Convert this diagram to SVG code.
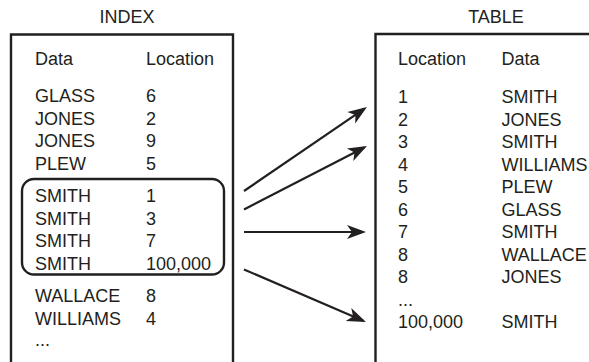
<svg xmlns="http://www.w3.org/2000/svg" width="589" height="362" viewBox="0 0 589 362">
  <style>
    text { font-family: "Liberation Sans", Arial, Helvetica, sans-serif; font-size: 18px; fill: #231f20; }
    .title { text-anchor: middle; }
    .box { fill: none; stroke: #231f20; stroke-width: 2.4; }
    .conn { fill: none; stroke: #231f20; stroke-width: 2.2; }
  </style>
  <defs>
    <marker id="arrow" markerUnits="userSpaceOnUse" markerWidth="30" markerHeight="30" refX="0" refY="0" viewBox="-20 -15 30 30" orient="auto" overflow="visible">
      <path d="M3,0 L-16,-7 L-11,0 L-16,7 Z" fill="#231f20"/>
    </marker>
  </defs>

  <g id="index">
    <text class="title" x="127" y="23">INDEX</text>
    <path class="box" d="M11,362 V34.5 H233 V362"/>
    <text x="35" y="65">Data</text>
    <text x="146" y="65">Location</text>
    <text x="35" y="102">GLASS</text><text x="146" y="102">6</text>
    <text x="35" y="124.5">JONES</text><text x="146" y="124.5">2</text>
    <text x="35" y="147">JONES</text><text x="146" y="147">9</text>
    <text x="35" y="169.5">PLEW</text><text x="146" y="169.5">5</text>
    <text x="35" y="202">SMITH</text><text x="146" y="202">1</text>
    <text x="35" y="224.5">SMITH</text><text x="146" y="224.5">3</text>
    <text x="35" y="247">SMITH</text><text x="146" y="247">7</text>
    <text x="35" y="269.5">SMITH</text><text x="146" y="269.5">100,000</text>
    <text x="35" y="302">WALLACE</text><text x="146" y="302">8</text>
    <text x="35" y="324.5">WILLIAMS</text><text x="146" y="324.5">4</text>
    <text x="35" y="346">...</text>
  </g>

  <g id="smith-group">
    <rect class="box" x="22" y="179" width="202" height="95.5" rx="12" ry="12"/>
  </g>

  <g id="table">
    <text class="title" x="496" y="23">TABLE</text>
    <path class="box" d="M375.5,362 V34 H589"/>
    <text x="398" y="65">Location</text>
    <text x="501.5" y="65">Data</text>
    <text x="398" y="103">1</text><text x="501.5" y="103">SMITH</text>
    <text x="398" y="125.5">2</text><text x="501.5" y="125.5">JONES</text>
    <text x="398" y="148">3</text><text x="501.5" y="148">SMITH</text>
    <text x="398" y="170.5">4</text><text x="501.5" y="170.5">WILLIAMS</text>
    <text x="398" y="193">5</text><text x="501.5" y="193">PLEW</text>
    <text x="398" y="215.5">6</text><text x="501.5" y="215.5">GLASS</text>
    <text x="398" y="238">7</text><text x="501.5" y="238">SMITH</text>
    <text x="398" y="260.5">8</text><text x="501.5" y="260.5">WALLACE</text>
    <text x="398" y="283">8</text><text x="501.5" y="283">JONES</text>
    <text x="398" y="305.5">...</text>
    <text x="398" y="328">100,000</text><text x="501.5" y="328">SMITH</text>
  </g>

  <g id="connectors">
    <line class="conn" x1="244" y1="191" x2="364.5" y2="108.7" marker-end="url(#arrow)"/>
    <line class="conn" x1="244" y1="209.5" x2="364.3" y2="147.4" marker-end="url(#arrow)"/>
    <line class="conn" x1="244" y1="232" x2="363" y2="232" marker-end="url(#arrow)"/>
    <line class="conn" x1="244" y1="269.5" x2="363.2" y2="320.8" marker-end="url(#arrow)"/>
  </g>
</svg>
